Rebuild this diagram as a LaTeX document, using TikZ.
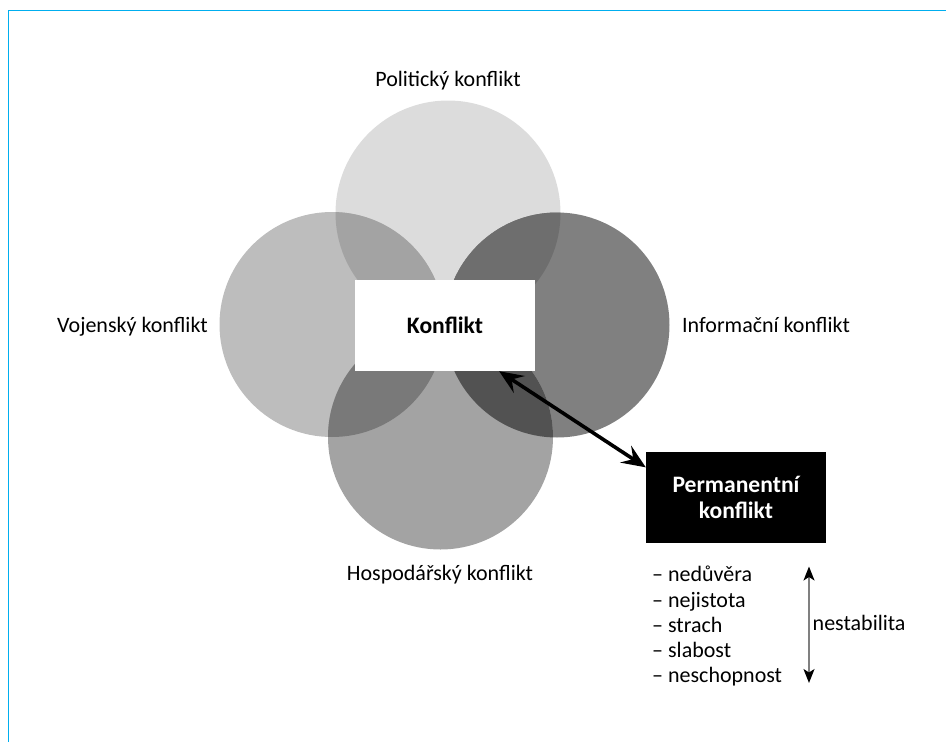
\documentclass[tikz,border=0pt]{standalone}
\usepackage{fontspec}
\setmainfont{Carlito}
\usetikzlibrary{arrows.meta,calc}
\definecolor{frameblue}{RGB}{0,174,239}
\definecolor{cTop}{RGB}{220,220,220}
\definecolor{cLeft}{RGB}{189,189,189}
\definecolor{cRight}{RGB}{128,128,128}
\definecolor{cBottom}{RGB}{163,163,163}
\definecolor{cTL}{RGB}{163,163,163}
\definecolor{cTR}{RGB}{110,110,110}
\definecolor{cLB}{RGB}{121,121,121}
\definecolor{cRB}{RGB}{82,82,82}
\definecolor{shaftgray}{RGB}{128,128,128}
\begin{document}
\begin{tikzpicture}[x=1pt,y=-1pt,
  txt/.style={font=\fontsize{22}{26}\selectfont, inner sep=0pt},
  boxnode/.style={minimum width=180pt, minimum height=91pt, inner sep=0pt,
    font=\bfseries\fontsize{23.6}{25.5}\selectfont, align=center},
  bigarrow/.style={line width=3.6pt,
    {Stealth[length=24pt,width=20pt,inset=9pt]}-{Stealth[length=24pt,width=20pt,inset=9pt]}},
  smallarrow/.style={line width=1.5pt, draw=shaftgray,
    {Stealth[length=14pt,width=11pt,inset=3.5pt,color=black]}-{Stealth[length=14pt,width=11pt,inset=3.5pt,color=black]}}
]
\useasboundingbox (0,0) rectangle (946,742);
% frame
\draw[frameblue, line width=1.5pt] (8.7,742) -- (8.7,10.3) -- (946,10.3);

% circle centres
\coordinate (T) at (448,213);
\coordinate (L) at (332,324.5);
\coordinate (R) at (557,325);
\coordinate (B) at (440.5,437);
\def\rad{112.5}

\fill[cTop] (T) circle (\rad);
\fill[cLeft] (L) circle (\rad);
\fill[cRight] (R) circle (\rad);
\fill[cBottom] (B) circle (\rad);
\begin{scope}
  \clip (T) circle (\rad);
  \fill[cTL] (L) circle (\rad);
  \fill[cTR] (R) circle (\rad);
\end{scope}
\begin{scope}
  \clip (B) circle (\rad);
  \fill[cLB] (L) circle (\rad);
  \fill[cRB] (R) circle (\rad);
\end{scope}

% labels of circles
\node[txt, anchor=base] (pol) at (448,86) {Politický konflikt};
\node[txt, anchor=base east] (voj) at (208,332) {Vojenský konflikt};
\node[txt, anchor=base west] (inf) at (682,332) {Informační konflikt};
\node[txt, anchor=base] (hos) at (440,580) {Hospodářský konflikt};

% boxes
\node[boxnode, fill=white] (konf) at (445,325.5) {Konflikt};
\node[boxnode, fill=black, text=white] (perm) at (736,497.5) {Permanentní\\konflikt};

\draw[bigarrow] ($(konf.south west)!0.8!(konf.south east)$) -- ($(perm.north west)!0.17!(perm.south west)$);

% list
\node[txt, anchor=base west] (l1) at (652,581.7) {– nedůvěra};
\node[txt, anchor=base west] (l2) at (652,607) {– nejistota};
\node[txt, anchor=base west] (l3) at (652,632) {– strach};
\node[txt, anchor=base west] (l4) at (652,657.3) {– slabost};
\node[txt, anchor=base west] (l5) at (652,682.7) {– neschopnost};

\coordinate (vt) at (809,566.5);
\coordinate (vb) at (809,683);
\draw[smallarrow] (vt) -- (vb);
\node[txt, anchor=base west] (nes) at (812.5,630.7) {nestabilita};
\end{tikzpicture}
\end{document}
